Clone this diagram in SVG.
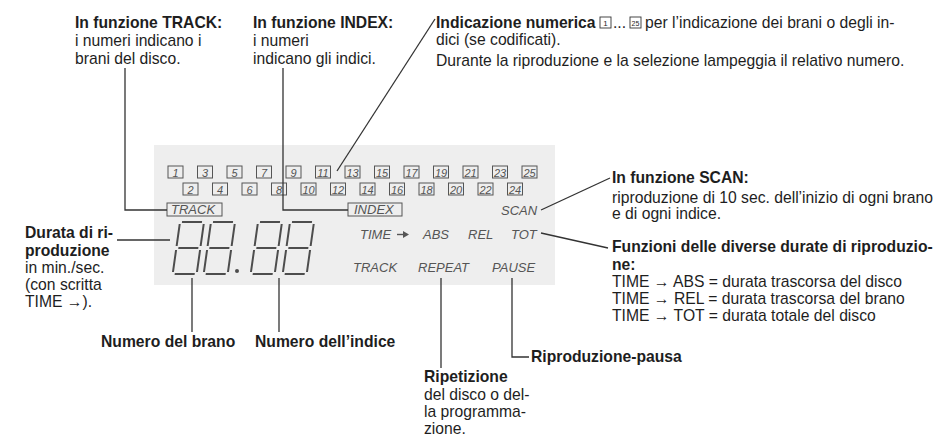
<svg xmlns="http://www.w3.org/2000/svg" width="935" height="436" viewBox="0 0 935 436">
<style>
text{font-family:"Liberation Sans",Arial,sans-serif;fill:#1e1e1e;font-size:15.7px}
.b{font-weight:bold}
.d{font-style:italic;fill:#555;font-size:13px}
.n{font-style:italic;fill:#555;font-size:11px;text-anchor:middle}
.box{fill:none;stroke:#555;stroke-width:1}
.seg{fill:none;stroke:#4d4d4d;stroke-width:2}
.c{fill:none;stroke:#333;stroke-width:1.3}
</style>
<defs>
<g id="dg" class="seg">
<path d="M2,0H22M0,2V24M24,2V24M2,26H22M0,28V50M24,28V50M2,52H22"/>
</g>
</defs>
<rect x="154" y="145" width="401" height="140" fill="#eeeeee"/>
<g id="display">
<g id="boxes-odd">
<rect class="box" x="168" y="166" width="15" height="12"/><text class="n" x="175.5" y="176.5">1</text>
<rect class="box" x="197.5" y="166" width="15" height="12"/><text class="n" x="205" y="176.5">3</text>
<rect class="box" x="227" y="166" width="15" height="12"/><text class="n" x="234.5" y="176.5">5</text>
<rect class="box" x="256.5" y="166" width="15" height="12"/><text class="n" x="264" y="176.5">7</text>
<rect class="box" x="286" y="166" width="15" height="12"/><text class="n" x="293.5" y="176.5">9</text>
<rect class="box" x="315.5" y="166" width="15" height="12"/><text class="n" x="323" y="176.5">11</text>
<rect class="box" x="345" y="166" width="15" height="12"/><text class="n" x="352.5" y="176.5">13</text>
<rect class="box" x="374.5" y="166" width="15" height="12"/><text class="n" x="382" y="176.5">15</text>
<rect class="box" x="404" y="166" width="15" height="12"/><text class="n" x="411.5" y="176.5">17</text>
<rect class="box" x="433.5" y="166" width="15" height="12"/><text class="n" x="441" y="176.5">19</text>
<rect class="box" x="463" y="166" width="15" height="12"/><text class="n" x="470.5" y="176.5">21</text>
<rect class="box" x="492.5" y="166" width="15" height="12"/><text class="n" x="500" y="176.5">23</text>
<rect class="box" x="522" y="166" width="15" height="12"/><text class="n" x="529.5" y="176.5">25</text>
</g>
<g id="boxes-even">
<rect class="box" x="183" y="183" width="15" height="12"/><text class="n" x="190.5" y="193.5">2</text>
<rect class="box" x="212.5" y="183" width="15" height="12"/><text class="n" x="220" y="193.5">4</text>
<rect class="box" x="242" y="183" width="15" height="12"/><text class="n" x="249.5" y="193.5">6</text>
<rect class="box" x="271.5" y="183" width="15" height="12"/><text class="n" x="279" y="193.5">8</text>
<rect class="box" x="301" y="183" width="15" height="12"/><text class="n" x="308.5" y="193.5">10</text>
<rect class="box" x="330.5" y="183" width="15" height="12"/><text class="n" x="338" y="193.5">12</text>
<rect class="box" x="360" y="183" width="15" height="12"/><text class="n" x="367.5" y="193.5">14</text>
<rect class="box" x="389.5" y="183" width="15" height="12"/><text class="n" x="397" y="193.5">16</text>
<rect class="box" x="419" y="183" width="15" height="12"/><text class="n" x="426.5" y="193.5">18</text>
<rect class="box" x="448.5" y="183" width="15" height="12"/><text class="n" x="456" y="193.5">20</text>
<rect class="box" x="478" y="183" width="15" height="12"/><text class="n" x="485.5" y="193.5">22</text>
<rect class="box" x="507.5" y="183" width="15" height="12"/><text class="n" x="515" y="193.5">24</text>
</g>
<g id="track-ind"><rect class="box" x="167" y="203" width="55" height="13"/><text class="d" x="171" y="214">TRACK</text></g>
<g id="index-ind"><rect class="box" x="348" y="203" width="54" height="13"/><text class="d" x="354" y="214">INDEX</text></g>
<g id="scan-ind"><text class="d" x="501" y="215">SCAN</text></g>
<g id="digits">
<use href="#dg" transform="translate(180,222) skewX(-8)"/>
<use href="#dg" transform="translate(211,222) skewX(-8)"/>
<circle cx="237" cy="271" r="2" fill="#4d4d4d"/>
<use href="#dg" transform="translate(258,222) skewX(-8)"/>
<use href="#dg" transform="translate(290,222) skewX(-8)"/>
</g>
<g id="time-row">
<text class="d" x="360" y="239">TIME</text>
<path d="M397,234.5H404" stroke="#555" stroke-width="1.4"/><path d="M403,231L409,234.5L403,238Z" fill="#555"/>
<text class="d" x="423" y="239">ABS</text><text class="d" x="468" y="239">REL</text><text class="d" x="511" y="239">TOT</text>
</g>
<g id="status-row">
<text class="d" x="353" y="272">TRACK</text><text class="d" x="418" y="272">REPEAT</text><text class="d" x="492" y="272">PAUSE</text>
</g>
</g>
<g id="connectors">
<path class="c" d="M125,68V210H167"/>
<path class="c" d="M283,68V210H348"/>
<path class="c" d="M435,19L337,171"/>
<path class="c" d="M117,240H170"/>
<path class="c" d="M192,278V332"/>
<path class="c" d="M279,278V332"/>
<path class="c" d="M441,278V368"/>
<path class="c" d="M512,278V357H529"/>
<path class="c" d="M541,210L610,178"/>
<path class="c" d="M541,233L608,248"/>
</g>
<g id="lbl-track">
<text class="b" x="75" y="28">In funzione TRACK:</text>
<text x="75" y="46">i numeri indicano i</text>
<text x="75" y="64">brani del disco.</text>
</g>
<g id="lbl-index">
<text class="b" x="253" y="28">In funzione INDEX:</text>
<text x="253" y="46">i numeri</text>
<text x="253" y="64">indicano gli indici.</text>
</g>
<g id="lbl-numerica">
<text class="b" x="436" y="28">Indicazione numerica</text>
<rect x="600" y="17" width="11" height="11" fill="none" stroke="#333" stroke-width="0.9"/>
<text x="605.5" y="26" style="font-size:8px;text-anchor:middle">1</text>
<text x="613" y="28">...</text>
<rect x="630" y="17" width="11" height="11" fill="none" stroke="#333" stroke-width="0.9"/>
<text x="635.5" y="26" style="font-size:7px;text-anchor:middle">25</text>
<text x="645" y="28">per l’indicazione dei brani o degli in-</text>
<text x="436" y="45">dici (se codificati).</text>
<text x="436" y="66">Durante la riproduzione e la selezione lampeggia il relativo numero.</text>
</g>
<g id="lbl-scan">
<text class="b" x="612" y="183">In funzione SCAN:</text>
<text x="612" y="203">riproduzione di 10 sec. dell’inizio di ogni brano</text>
<text x="612" y="219">e di ogni indice.</text>
</g>
<g id="lbl-durate">
<text class="b" x="612" y="252">Funzioni delle diverse durate di riproduzio-</text>
<text class="b" x="612" y="270">ne:</text>
<text x="612" y="287">TIME → ABS = durata trascorsa del disco</text>
<text x="612" y="304">TIME → REL = durata trascorsa del brano</text>
<text x="612" y="321">TIME → TOT = durata totale del disco</text>
</g>
<g id="lbl-durata">
<text class="b" x="25" y="238">Durata di ri-</text>
<text class="b" x="25" y="256">produzione</text>
<text x="25" y="273">in min./sec.</text>
<text x="25" y="290">(con scritta</text>
<text x="25" y="307">TIME →).</text>
</g>
<g id="lbl-brano"><text class="b" x="101" y="347">Numero del brano</text></g>
<g id="lbl-indice"><text class="b" x="255" y="347">Numero dell’indice</text></g>
<g id="lbl-pausa"><text class="b" x="531" y="362">Riproduzione-pausa</text></g>
<g id="lbl-ripetizione">
<text class="b" x="424" y="382">Ripetizione</text>
<text x="424" y="400">del disco o del-</text>
<text x="424" y="417">la programma-</text>
<text x="424" y="434">zione.</text>
</g>
</svg>
